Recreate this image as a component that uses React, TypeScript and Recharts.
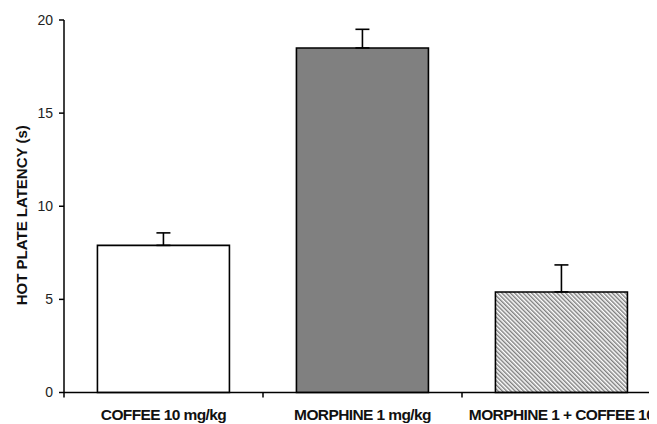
import React from 'react';
import { BarChart, Bar, XAxis, YAxis, Cell, ErrorBar } from 'recharts';

const categories = ['COFFEE 10 mg/kg', 'MORPHINE 1 mg/kg', 'MORPHINE 1 + COFFEE 10'];
const latency = [7.9, 18.5, 5.4];
const sem = [0.67, 1.0, 1.45];
const yTicks = [0, 5, 10, 15, 20];
const yLabel = 'HOT PLATE LATENCY (s)';

const fills = ['#ffffff', '#808080', 'url(#hatch)'];
const FONT = '"Liberation Sans", Arial, Helvetica, sans-serif';

const data = categories.map((c, i) => ({
  name: c,
  value: latency[i],
  err: [0, sem[i]],
}));

const CatTick = (props: any) => {
  const { x, y, payload, index, width, visibleTicksCount } = props;
  const band = width && visibleTicksCount ? width / visibleTicksCount : 0;
  const half = band / 2;
  const tickLen = 5;
  return (
    <g>
      {index === 0 && band > 0 && (
        <line x1={x - half} y1={y} x2={x - half} y2={y + tickLen} stroke="#000" strokeWidth={1.5} />
      )}
      {band > 0 && (
        <line x1={x + half} y1={y} x2={x + half} y2={y + tickLen} stroke="#000" strokeWidth={1.5} />
      )}
      <text
        x={x}
        y={y + 27.5}
        textAnchor="middle"
        fontFamily={FONT}
        fontWeight="bold"
        fontSize={15.5}
        letterSpacing={-0.6}
        fill="#111"
      >
        {payload.value}
      </text>
    </g>
  );
};

const YLabel = () => {
  const cx = 19;
  const cy = 12 + 372.5 / 2 + 9;
  return (
    <text
      x={cx}
      y={cy}
      transform={`rotate(-90, ${cx}, ${cy})`}
      textAnchor="middle"
      fontFamily={FONT}
      fontWeight="bold"
      fontSize={15}
      fill="#111"
    >
      {yLabel}
    </text>
  );
};

export default function App() {
  return (
    <div style={{ width: 649, height: 416, overflow: 'hidden' }}>
      <BarChart
        width={680}
        height={416}
        data={data}
        margin={{ top: 12, right: 27, bottom: 0, left: 0 }}
        barCategoryGap="16.8%"
      >
        <defs>
          <pattern
            id="hatch"
            patternUnits="userSpaceOnUse"
            width="3"
            height="3"
            patternTransform="rotate(-45)"
          >
            <rect x="0" y="0" width="3" height="3" fill="#ffffff" />
            <line x1="0.75" y1="0" x2="0.75" y2="3" stroke="#707070" strokeWidth="1.3" />
          </pattern>
        </defs>
        <XAxis
          dataKey="name"
          tickLine={false}
          axisLine={{ stroke: '#000', strokeWidth: 1.5 }}
          tickSize={0}
          tickMargin={0}
          height={31.5}
          interval={0}
          tick={<CatTick />}
        />
        <YAxis
          domain={[0, 20]}
          ticks={yTicks}
          width={56}
          tickSize={5}
          tickMargin={6}
          axisLine={{ stroke: '#000', strokeWidth: 1.5 }}
          tickLine={{ stroke: '#000', strokeWidth: 1.5 }}
          tick={{ fontSize: 14, fill: '#222', fontFamily: FONT }}
          label={<YLabel />}
        />
        <Bar dataKey="value" stroke="#000" strokeWidth={1.6} isAnimationActive={false}>
          {data.map((d, i) => (
            <Cell key={d.name} fill={fills[i]} />
          ))}
          <ErrorBar
            dataKey="err"
            direction="y"
            width={7}
            stroke="#000"
            strokeWidth={1.6}
            isAnimationActive={false}
          />
        </Bar>
      </BarChart>
    </div>
  );
}
